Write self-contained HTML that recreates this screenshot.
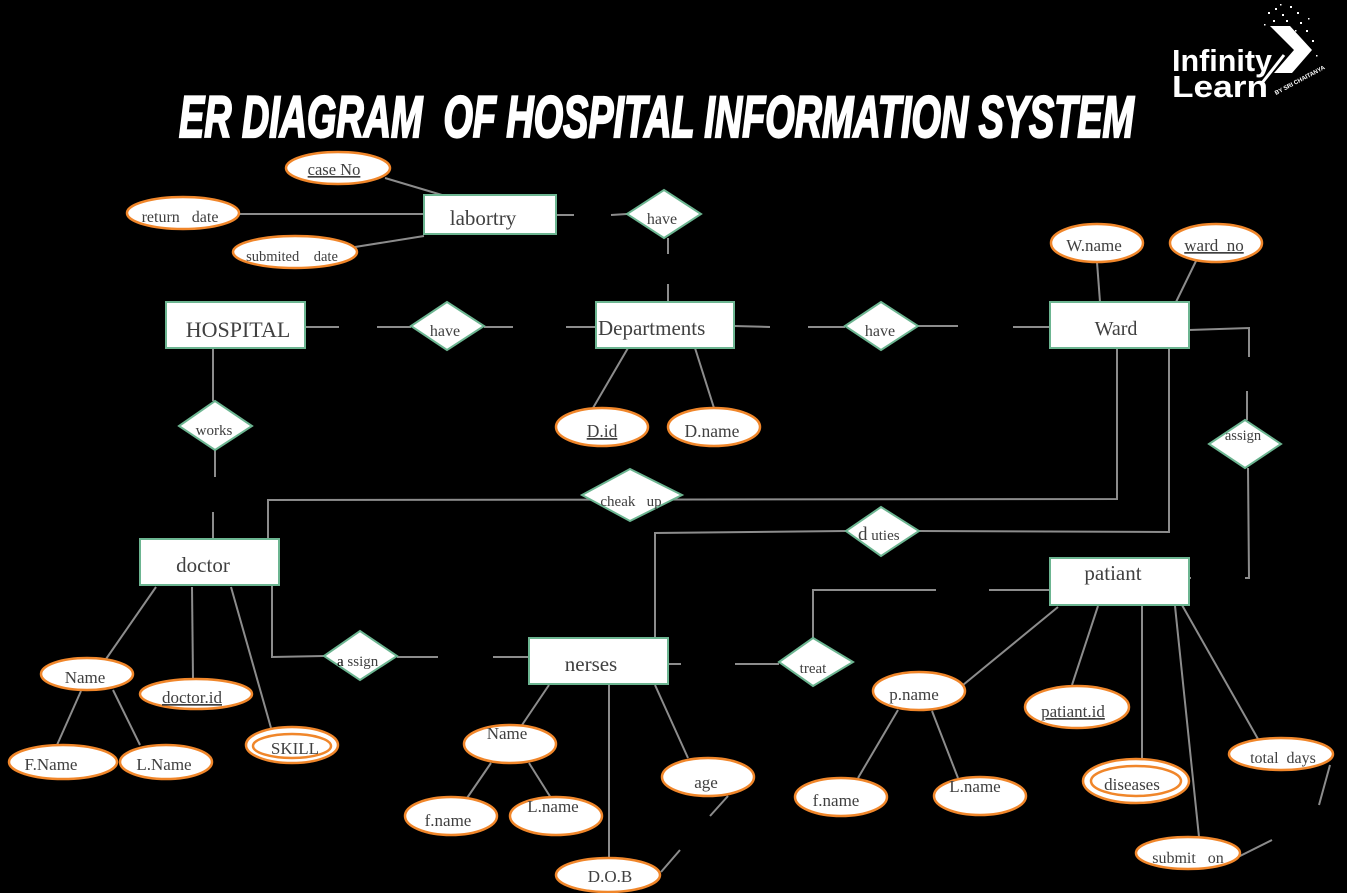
<!DOCTYPE html>
<html><head><meta charset="utf-8"><style>
html,body{margin:0;padding:0;background:#000;}
svg{display:block;}
text{font-family:"Liberation Serif",serif;fill:#404040;}
.t{font-family:"Liberation Sans",sans-serif;fill:#fff;}
</style></head><body>
<svg width="1347" height="893" viewBox="0 0 1347 893" xmlns="http://www.w3.org/2000/svg">
<rect width="1347" height="893" fill="#000"/>

<!-- Title -->
<text x="179" y="137" class="t" font-size="58" font-weight="bold" font-style="italic" stroke="#fff" stroke-width="2.2" textLength="955" lengthAdjust="spacingAndGlyphs" xml:space="preserve">ER DIAGRAM  OF HOSPITAL INFORMATION SYSTEM</text>

<!-- Logo -->
<g>
<text x="1172" y="71" class="t" font-size="31" font-weight="bold" textLength="100" lengthAdjust="spacingAndGlyphs">Infinity</text>
<text x="1172" y="97" class="t" font-size="31" font-weight="bold" textLength="96" lengthAdjust="spacingAndGlyphs">Learn</text>
<polygon points="1270,26 1290,26 1312,50 1292,73 1274,73 1294,50" fill="#fff"/>
<line x1="1262" y1="83" x2="1284" y2="55" stroke="#fff" stroke-width="3"/>
<g fill="#fff">
<rect x="1268" y="12" width="2" height="2"/><rect x="1275" y="8" width="2" height="2"/><rect x="1282" y="14" width="2" height="2"/>
<rect x="1290" y="6" width="2" height="2"/><rect x="1297" y="12" width="2" height="2"/><rect x="1286" y="20" width="2" height="2"/>
<rect x="1273" y="20" width="2" height="2"/><rect x="1300" y="22" width="2" height="2"/><rect x="1306" y="30" width="2" height="2"/>
<rect x="1312" y="40" width="2" height="2"/><rect x="1295" y="30" width="1.5" height="1.5"/><rect x="1280" y="4" width="1.5" height="1.5"/>
<rect x="1316" y="55" width="1.5" height="1.5"/><rect x="1264" y="24" width="1.5" height="1.5"/><rect x="1308" y="18" width="1.5" height="1.5"/>
</g>
<text x="0" y="0" class="t" font-size="6" font-weight="bold" transform="translate(1276,95) rotate(-28)">BY SRI CHAITANYA</text>
</g>

<!-- Connector lines -->
<g stroke="#8c8c8c" stroke-width="2" fill="none">
<line x1="385" y1="178" x2="442" y2="195"/>
<line x1="239" y1="214" x2="424" y2="214"/>
<line x1="355" y1="247" x2="424" y2="236"/>
<line x1="556" y1="215" x2="574" y2="215"/>
<line x1="611" y1="215" x2="627" y2="214"/>
<line x1="668" y1="238" x2="668" y2="254"/>
<line x1="668" y1="284" x2="668" y2="302"/>
<line x1="305" y1="327" x2="339" y2="327"/>
<line x1="377" y1="327" x2="411" y2="327"/>
<line x1="484" y1="327" x2="513" y2="327"/>
<line x1="566" y1="327" x2="596" y2="327"/>
<line x1="734" y1="326" x2="770" y2="327"/>
<line x1="808" y1="327" x2="845" y2="327"/>
<line x1="918" y1="326" x2="958" y2="326"/>
<line x1="1013" y1="327" x2="1050" y2="327"/>
<polyline points="1189,330 1249,328 1249,357"/>
<line x1="1247" y1="391" x2="1247" y2="420"/>
<polyline points="1248,468 1249,578 1245,578"/>
<line x1="1188" y1="578" x2="1191" y2="578"/>
<line x1="1097" y1="262" x2="1100" y2="302"/>
<line x1="1196" y1="261" x2="1176" y2="302"/>
<line x1="628" y1="348" x2="593" y2="408"/>
<line x1="695" y1="348" x2="714" y2="408"/>
<polyline points="1117,348 1117,499 268,500 268,539"/>
<polyline points="1169,348 1169,532 919,531"/>
<polyline points="846,531 655,533 655,638"/>
<line x1="213" y1="348" x2="213" y2="401"/>
<line x1="215" y1="450" x2="215" y2="477"/>
<line x1="213" y1="512" x2="213" y2="539"/>
<line x1="156" y1="587" x2="106" y2="659"/>
<line x1="192" y1="587" x2="193" y2="679"/>
<line x1="231" y1="587" x2="271" y2="728"/>
<line x1="81" y1="691" x2="57" y2="745"/>
<line x1="113" y1="690" x2="140" y2="745"/>
<polyline points="272,585 272,657 324,656"/>
<line x1="397" y1="657" x2="438" y2="657"/>
<line x1="493" y1="657" x2="529" y2="657"/>
<line x1="549" y1="685" x2="522" y2="725"/>
<line x1="609" y1="685" x2="609" y2="857"/>
<line x1="655" y1="685" x2="688" y2="758"/>
<line x1="491" y1="763" x2="467" y2="798"/>
<line x1="529" y1="763" x2="551" y2="798"/>
<line x1="728" y1="796" x2="710" y2="816"/>
<line x1="661" y1="872" x2="680" y2="850"/>
<line x1="668" y1="664" x2="681" y2="664"/>
<line x1="735" y1="664" x2="779" y2="664"/>
<polyline points="813,638 813,590 936,590"/>
<line x1="989" y1="590" x2="1050" y2="590"/>
<line x1="1058" y1="607" x2="963" y2="685"/>
<line x1="1098" y1="606" x2="1072" y2="685"/>
<line x1="1142" y1="606" x2="1142" y2="758"/>
<line x1="1175" y1="606" x2="1199" y2="837"/>
<line x1="1182" y1="605" x2="1258" y2="739"/>
<line x1="898" y1="710" x2="858" y2="778"/>
<line x1="932" y1="711" x2="958" y2="778"/>
<line x1="1330" y1="765" x2="1319" y2="805"/>
<line x1="1236" y1="858" x2="1272" y2="840"/>
</g>

<!-- Entities -->
<g fill="#fff" stroke="#6cb591" stroke-width="2">
<rect x="424" y="195" width="132" height="39"/>
<rect x="166" y="302" width="139" height="46"/>
<rect x="596" y="302" width="138" height="46"/>
<rect x="1050" y="302" width="139" height="46"/>
<rect x="140" y="539" width="139" height="46"/>
<rect x="529" y="638" width="139" height="46"/>
<rect x="1050" y="558" width="139" height="47"/>
</g>

<!-- Relationships -->
<g fill="#fff" stroke="#6cb591" stroke-width="2">
<polygon points="627,214 664,190 701,214 664,238"/>
<polygon points="411,326 447,302 484,326 447,350"/>
<polygon points="845,326 881,302 918,326 881,350"/>
<polygon points="179,426 215,401 252,426 215,450"/>
<polygon points="582,495 630,469 682,495 630,521"/>
<polygon points="846,531 881,507 919,531 881,556"/>
<polygon points="1209,444 1245,420 1281,444 1245,468"/>
<polygon points="324,656 360,631 397,656 360,680"/>
<polygon points="779,662 813,638 853,662 813,686"/>
</g>

<!-- Attributes -->
<g fill="#fff" stroke="#f0862a" stroke-width="2.5">
<ellipse cx="338" cy="168" rx="52" ry="16"/>
<ellipse cx="183" cy="213" rx="56" ry="16"/>
<ellipse cx="295" cy="252" rx="62" ry="16"/>
<ellipse cx="602" cy="427" rx="46" ry="19"/>
<ellipse cx="714" cy="427" rx="46" ry="19"/>
<ellipse cx="1097" cy="243" rx="46" ry="19"/>
<ellipse cx="1216" cy="243" rx="46" ry="19"/>
<ellipse cx="87" cy="674" rx="46" ry="16"/>
<ellipse cx="196" cy="694" rx="56" ry="15"/>
<ellipse cx="292" cy="745" rx="46" ry="18"/>
<ellipse cx="292" cy="746" rx="39" ry="12"/>
<ellipse cx="63" cy="762" rx="54" ry="17"/>
<ellipse cx="166" cy="762" rx="46" ry="17"/>
<ellipse cx="510" cy="744" rx="46" ry="19"/>
<ellipse cx="451" cy="816" rx="46" ry="19"/>
<ellipse cx="556" cy="816" rx="46" ry="19"/>
<ellipse cx="708" cy="777" rx="46" ry="19"/>
<ellipse cx="608" cy="875" rx="52" ry="17"/>
<ellipse cx="919" cy="691" rx="46" ry="19"/>
<ellipse cx="1077" cy="707" rx="52" ry="21"/>
<ellipse cx="841" cy="797" rx="46" ry="19"/>
<ellipse cx="980" cy="796" rx="46" ry="19"/>
<ellipse cx="1136" cy="781" rx="53" ry="22"/>
<ellipse cx="1136" cy="781" rx="45" ry="15"/>
<ellipse cx="1281" cy="754" rx="52" ry="16"/>
<ellipse cx="1188" cy="853" rx="52" ry="16"/>
</g>

<!-- Labels -->
<g text-anchor="middle">
<text x="334" y="175" font-size="16.5" style="text-decoration:underline">case  No</text>
<text x="180" y="222" font-size="16" xml:space="preserve">return   date</text>
<text x="292" y="261" font-size="14.5" xml:space="preserve">submited    date</text>
<text x="483" y="225" font-size="21">labortry</text>
<text x="662" y="224" font-size="16">have</text>
<text x="238" y="337" font-size="22">HOSPITAL</text>
<text x="445" y="336" font-size="16">have</text>
<text x="880" y="336" font-size="16">have</text>
<text x="1116" y="335" font-size="20">Ward</text>
<text x="1094" y="251" font-size="17">W.name</text>
<text x="1214" y="251" font-size="17" style="text-decoration:underline" xml:space="preserve">ward  no</text>
<text x="602" y="437" font-size="17.5" style="text-decoration:underline">D.id</text>
<text x="712" y="437" font-size="17.5">D.name</text>
<text x="214" y="435" font-size="15">works</text>
<text x="1243" y="440" font-size="14.5">assign</text>
<text x="631" y="506" font-size="15" xml:space="preserve">cheak   up</text>
<text x="203" y="572" font-size="21">doctor</text>
<text x="1113" y="580" font-size="21">patiant</text>
<text x="85" y="683" font-size="17">Name</text>
<text x="192" y="703" font-size="17" style="text-decoration:underline">doctor.id</text>
<text x="295" y="754" font-size="17">SKILL</text>
<text x="51" y="770" font-size="17">F.Name</text>
<text x="164" y="770" font-size="17">L.Name</text>
<text x="591" y="671" font-size="21">nerses</text>
<text x="813" y="673" font-size="15">treat</text>
<text x="507" y="739" font-size="17">Name</text>
<text x="706" y="788" font-size="17">age</text>
<text x="448" y="826" font-size="17">f.name</text>
<text x="553" y="812" font-size="17">L.name</text>
<text x="610" y="882" font-size="17">D.O.B</text>
<text x="914" y="700" font-size="17">p.name</text>
<text x="1073" y="717" font-size="17" style="text-decoration:underline">patiant.id</text>
<text x="836" y="806" font-size="17">f.name</text>
<text x="975" y="792" font-size="17">L.name</text>
<text x="1132" y="790" font-size="17">diseases</text>
<text x="1283" y="763" font-size="16" xml:space="preserve">total  days</text>
<text x="1188" y="863" font-size="16" xml:space="preserve">submit   on</text>
</g>
<text x="598" y="335" font-size="21">Departments</text>
<text x="858" y="540" font-size="19">d<tspan font-size="15"> uties</tspan></text>
<text x="337" y="666" font-size="15"><tspan fill="#000">a</tspan> ssign</text>
</svg>
</body></html>
